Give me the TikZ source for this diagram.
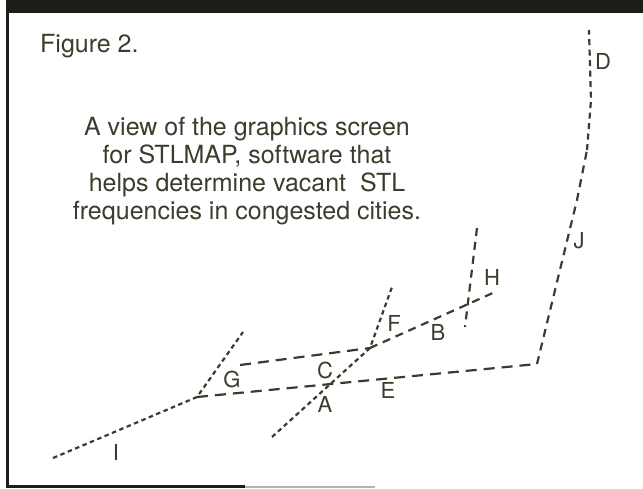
\documentclass[tikz,border=0pt]{standalone}
\usepackage{fontspec}
\setmainfont{TeX Gyre Heros}
\usetikzlibrary{positioning}
\definecolor{inkcolor}{RGB}{58,60,44}
\definecolor{framecolor}{RGB}{28,28,24}
\definecolor{fadecolor}{RGB}{180,180,174}

\begin{document}
\begin{tikzpicture}[
  x=1pt,y=-1pt,
  road/.style={draw=inkcolor,line width=2.2pt},
  dotroad/.style={road,dash pattern=on 4.5pt off 3.5pt},
  midroad/.style={road,dash pattern=on 8pt off 6pt},
  longroad/.style={road,dash pattern=on 11pt off 7pt},
  caption/.style={font=\fontsize{25}{28}\selectfont,text=inkcolor,inner sep=0pt},
  tag/.style={font=\fontsize{22}{24}\selectfont,text=inkcolor,inner sep=0pt,anchor=base},
]
\useasboundingbox (0,0) rectangle (643,488);

% --- FRAME ---
\fill[framecolor] (6,0) rectangle (643,13);
\draw[framecolor,line width=2.5pt] (7.5,12) -- (7.5,486.5) -- (245,486.5);
\draw[fadecolor,line width=2pt] (245,486.5) -- (375,486.5);

% --- TEXTS ---
\node[caption,anchor=base west] (title) at (40,52) {Figure 2.};
\node[caption,align=center,anchor=north] (note) at (247,117)
  {A view of the graphics screen\\for STLMAP, software that\\helps determine vacant\ \ STL\\frequencies in congested cities.};

% --- JUNCTIONS ---
\coordinate (gj)    at (197,397);
\coordinate (iend)  at (53,458);
\coordinate (gtop)  at (243,332);
\coordinate (gbeg)  at (240,365);
\coordinate (cf)    at (370,348);
\coordinate (aend)  at (272,437);
\coordinate (ftop)  at (392,287);
\coordinate (hend)  at (495,292);
\coordinate (htop)  at (477,228);
\coordinate (hbot)  at (465,327);
\coordinate (ej)    at (537,364);
\coordinate (j1)    at (577,200);
\coordinate (j2)    at (587,150);
\coordinate (j3)    at (591,100);
\coordinate (dtop)  at (589,30);

% --- ROADS ---
\draw[dotroad]  (iend) -- (gj) -- (gtop);
\draw[longroad] (gj) -- (ej);
\draw[longroad] (gbeg) -- (cf);
\draw[midroad]  (cf) -- (hend);
\draw[dotroad]  (aend) -- (cf) -- (ftop);
\draw[midroad]  (htop) -- (hbot);
\draw[midroad]  (ej) -- (j1) -- (j2);
\draw[road,dash pattern=on 6pt off 4.5pt] (j2) -- (j3) -- (dtop);

% --- LABELS ---
\node[tag] (labd) at (603,69)  {D};
\node[tag] (labj) at (579,248) {J};
\node[tag] (labh) at (492,285) {H};
\node[tag] (labb) at (438,340) {B};
\node[tag] (labf) at (394,331) {F};
\node[tag] (labc) at (325,378) {C};
\node[tag] (labg) at (232,387) {G};
\node[tag] (laba) at (325,412) {A};
\node[tag] (labe) at (388,398) {E};
\node[tag] (labi) at (116,460) {I};

\end{tikzpicture}
\end{document}
